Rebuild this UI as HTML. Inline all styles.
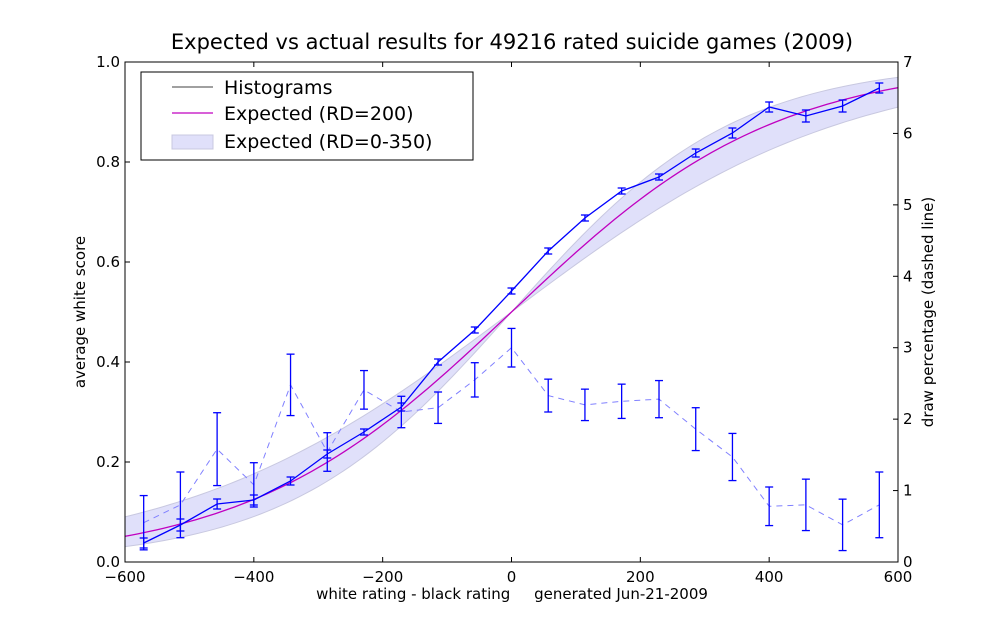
<!DOCTYPE html>
<html><head><meta charset="utf-8"><style>
body{margin:0;background:#fff;}
svg{display:block;font-family:"DejaVu Sans","Liberation Sans",sans-serif;}
</style></head><body>
<svg id="chart" width="1000" height="625" viewBox="0 0 1000 625" xmlns="http://www.w3.org/2000/svg">
<text x="512" y="49" font-size="21" text-anchor="middle">Expected vs actual results for 49216 rated suicide games (2009)</text>
<g id="plot"></g>
<text x="512" y="599" font-size="15" text-anchor="middle" style="white-space:pre">white rating - black rating     generated Jun-21-2009</text>
<text transform="translate(85,312) rotate(-90)" font-size="15" text-anchor="middle">average white score</text>
<text transform="translate(933,312) rotate(-90)" font-size="15" text-anchor="middle">draw percentage (dashed line)</text>
</svg>
<script>
const ratingDiffs=[-571,-514,-457,-400,-343,-286,-229,-171,-114,-57,0,57,114,171,229,286,343,400,457,514,571];
const scores=[0.038,0.074,0.116,0.124,0.162,0.216,0.26,0.31,0.40,0.464,0.542,0.622,0.688,0.742,0.77,0.818,0.858,0.91,0.892,0.912,0.948];
const scoreErr=[0.01,0.012,0.01,0.01,0.008,0.008,0.006,0.008,0.006,0.006,0.006,0.006,0.006,0.006,0.006,0.008,0.01,0.01,0.012,0.012,0.01];
const drawPct=[0.55,0.8,1.58,1.08,2.48,1.54,2.41,2.1,2.16,2.55,3.0,2.33,2.2,2.25,2.28,1.86,1.47,0.78,0.8,0.52,0.8];
const drawErr=[0.38,0.46,0.51,0.31,0.43,0.27,0.27,0.22,0.22,0.24,0.27,0.23,0.22,0.24,0.26,0.3,0.33,0.27,0.36,0.36,0.46];
const xTicks=[-600,-400,-200,0,200,400,600];
const yTicks=[0.0,0.2,0.4,0.6,0.8,1.0];
const y2Ticks=[0,1,2,3,4,5,6,7];
const rdMain=200, rdLow=0, rdHigh=350;

const L=125,R=898,T=62,B=562;
const X=v=>L+(v+600)/1200*(R-L);
const Y=v=>B-v*(B-T);
const Y2=v=>B-v/7*(B-T);
const NS="http://www.w3.org/2000/svg";
const plot=document.getElementById('plot');
function mk(tag,attrs,parent){const e=document.createElementNS(NS,tag);for(const k in attrs)e.setAttribute(k,attrs[k]);(parent||plot).appendChild(e);return e;}
function expected(d,rd){const q=Math.LN10/400;const g=1/Math.sqrt(1+3*q*q*rd*rd/(Math.PI*Math.PI));return 1/(1+Math.pow(10,-g*d/400));}

let up=[],lo=[];
for(let d=-600;d<=600;d+=10){up.push(X(d)+','+Y(expected(d,rdLow)));lo.push(X(d)+','+Y(expected(d,rdHigh)));}
const band=mk('polygon',{points:up.concat(lo.reverse()).join(' '),fill:'#e0e0fa',stroke:'#c8c8e0','stroke-width':1});


let ep=[];for(let d=-600;d<=600;d+=10)ep.push(X(d)+','+Y(expected(d,rdMain)));
const eline=mk('polyline',{points:ep.join(' '),fill:'none',stroke:'#c000c0','stroke-width':1.3});



const dl=mk('polyline',{points:ratingDiffs.map((d,i)=>X(d)+','+Y2(drawPct[i])).join(' '),fill:'none',stroke:'#8080ff','stroke-width':1,'stroke-dasharray':'6,5'});


const sl=mk('polyline',{points:ratingDiffs.map((d,i)=>X(d)+','+Y(scores[i])).join(' '),fill:'none',stroke:'#0000ff','stroke-width':1.3});



function errbar(x,y1,y2,name){const g=mk('g',{stroke:'#0000ff','stroke-width':1.3});


mk('line',{x1:x,x2:x,y1:y1,y2:y2},g);mk('line',{x1:x-4,x2:x+4,y1:y1,y2:y1},g);mk('line',{x1:x-4,x2:x+4,y1:y2,y2:y2},g);}
ratingDiffs.forEach((d,i)=>{
 errbar(X(d),Y(scores[i]-scoreErr[i]),Y(scores[i]+scoreErr[i]),'score-errorbar');
 errbar(X(d),Y2(drawPct[i]-drawErr[i]),Y2(drawPct[i]+drawErr[i]),'draw-errorbar');
});

const fr=mk('rect',{x:L,y:T,width:R-L,height:B-T,fill:'none',stroke:'#000','stroke-width':1});


function txt(x,y,s,anchor,name){const t=mk('text',{x:x,y:y,'font-size':15,'text-anchor':anchor});t.textContent=s;

}
xTicks.forEach(v=>{const x=X(v);mk('line',{x1:x,x2:x,y1:B,y2:B-5,stroke:'#000'});mk('line',{x1:x,x2:x,y1:T,y2:T+5,stroke:'#000'});
 txt(x,582,v<0?'\u2212'+(-v):String(v),'middle','x-tick-label');});
yTicks.forEach(v=>{const y=Y(v);mk('line',{x1:L,x2:L+5,y1:y,y2:y,stroke:'#000'});txt(L-5,y+5,v.toFixed(1),'end','y-tick-label');});
y2Ticks.forEach(v=>{const y=Y2(v);mk('line',{x1:R,x2:R-5,y1:y,y2:y,stroke:'#000'});txt(R+5,y+5,String(v),'start','right-tick-label');});

const lg=mk('g',{});


mk('rect',{x:141,y:72,width:332,height:88,fill:'#fff',stroke:'#000'},lg);
mk('line',{x1:172,x2:213,y1:87,y2:87,stroke:'#000','stroke-width':0.8},lg);
mk('line',{x1:172,x2:213,y1:113,y2:113,stroke:'#c000c0','stroke-width':1.3},lg);
mk('rect',{x:172,y:135,width:41,height:14,fill:'#e0e0fa',stroke:'#c8c8e0'},lg);
[['Histograms',94],['Expected (RD=200)',120],['Expected (RD=0-350)',148]].forEach(([s,y])=>{const t=mk('text',{x:224,y:y,'font-size':19},lg);t.textContent=s;

});
</script>
</body></html>
